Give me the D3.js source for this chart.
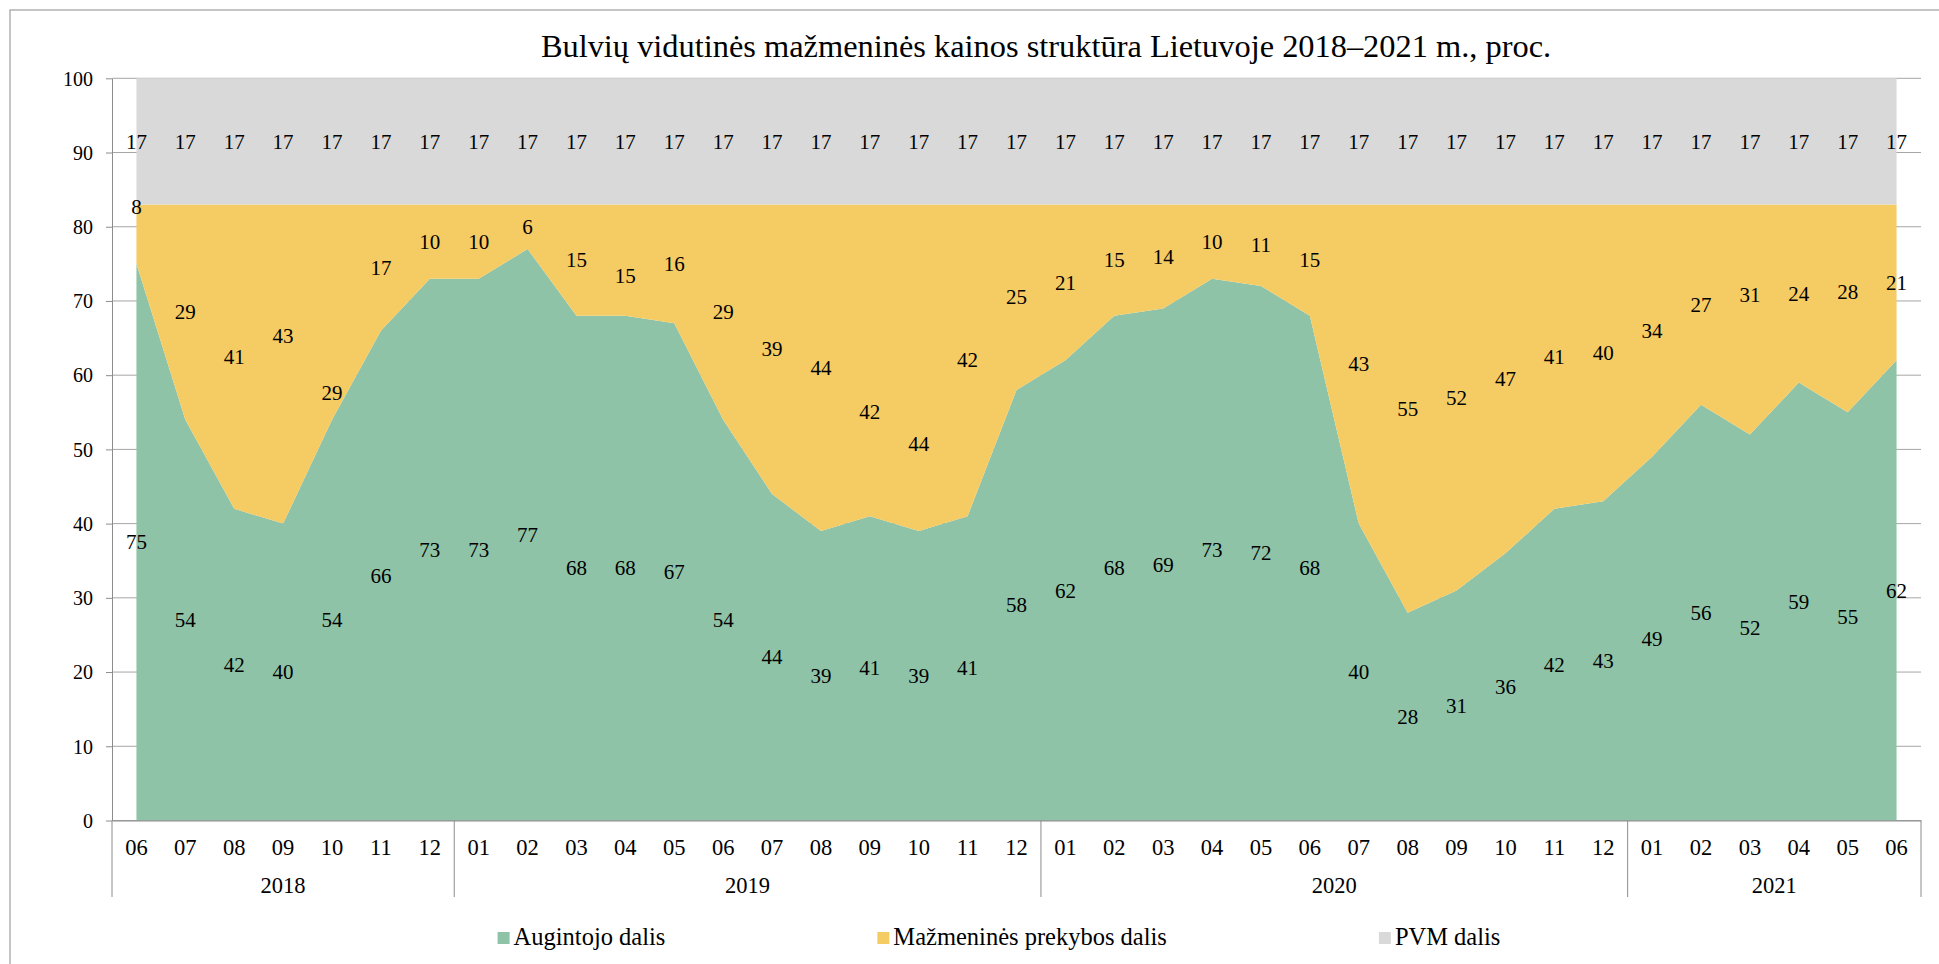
<!DOCTYPE html>
<html>
<head>
<meta charset="utf-8">
<script src="https://cdn.jsdelivr.net/npm/d3@7"></script>
<style>
body { margin: 0; background: #fff; }
svg { display: block; }
svg text { font-family: "Liberation Serif", "Times New Roman", serif !important; fill: #000; }
.grid line { stroke: #a6a6a6; stroke-width: 1; }
.axis path, .axis line { stroke: #8c8c8c; }
</style>
</head>
<body>
<svg class="chart" width="1939" height="964"></svg>
<script>
var title = "Bulvių vidutinės mažmeninės kainos struktūra Lietuvoje 2018–2021 m., proc.";
var years = ["2018", "2019", "2020", "2021"];
var months = [
    ["06", "07", "08", "09", "10", "11", "12"],
    ["01", "02", "03", "04", "05", "06", "07", "08", "09", "10", "11", "12"],
    ["01", "02", "03", "04", "05", "06", "07", "08", "09", "10", "11", "12"],
    ["01", "02", "03", "04", "05", "06"]
];
var grower = [75, 54, 42, 40, 54, 66, 73,
    73, 77, 68, 68, 67, 54, 44, 39, 41, 39, 41, 58,
    62, 68, 69, 73, 72, 68, 40, 28, 31, 36, 42, 43,
    49, 56, 52, 59, 55, 62];
var retail = [8, 29, 41, 43, 29, 17, 10,
    10, 6, 15, 15, 16, 29, 39, 44, 42, 44, 42, 25,
    21, 15, 14, 10, 11, 15, 43, 55, 52, 47, 41, 40,
    34, 27, 31, 24, 28, 21];
var vat = [17, 17, 17, 17, 17, 17, 17,
    17, 17, 17, 17, 17, 17, 17, 17, 17, 17, 17, 17,
    17, 17, 17, 17, 17, 17, 17, 17, 17, 17, 17, 17,
    17, 17, 17, 17, 17, 17];
var seriesKeys = ["grower", "retail", "vat"];
var seriesNames = ["Augintojo dalis", "Mažmeninės prekybos dalis", "PVM dalis"];
var seriesColors = ["#8ec3a7", "#f5cb64", "#d9d9d9"];
var yTicks = [0, 10, 20, 30, 40, 50, 60, 70, 80, 90, 100];

// retail labels that were dragged by hand in the original (value where the label sits)
var retailLabelMoves = { 0: 82.7, 3: 65.3, 4: 57.6, 10: 73.4, 15: 55.1, 16: 50.7, 33: 70.8, 35: 71.2 };

var svg = d3.select("svg.chart"),
    plotLeft = 112, plotRight = 1921, plotTop = 78.3, plotBottom = 820.5;

// category keys like "2018-06"
var keys = [];
years.forEach(function (yr, i) {
    months[i].forEach(function (m) { keys.push(yr + "-" + m); });
});

var rows = keys.map(function (k, i) {
    return { key: k, grower: grower[i], retail: retail[i], vat: vat[i] };
});

var x = d3.scaleBand().domain(keys).range([plotLeft, plotRight]).padding(0);
var y = d3.scaleLinear().domain([0, 100]).range([plotBottom, plotTop]);
function cx(k) { return x(k) + x.bandwidth() / 2; }

// chart border (cut off at right and bottom in the original)
svg.append("rect")
    .attr("x", 10).attr("y", 10)
    .attr("width", 2000).attr("height", 1000)
    .attr("fill", "none").attr("stroke", "#a6a6a6").attr("stroke-width", 1.3);

svg.append("text")
    .attr("x", 1046).attr("y", 56.7)
    .attr("text-anchor", "middle")
    .style("font-size", "32.4px")
    .text(title);

svg.append("g").attr("class", "grid")
    .selectAll("line")
    .data(yTicks)
    .enter().append("line")
    .attr("x1", plotLeft).attr("x2", plotRight)
    .attr("y1", function (d) { return y(d); })
    .attr("y2", function (d) { return y(d); });

var stacked = d3.stack().keys(seriesKeys)(rows);

var area = d3.area()
    .x(function (d) { return cx(d.data.key); })
    .y0(function (d) { return y(d[0]); })
    .y1(function (d) { return y(d[1]); });

svg.append("g").selectAll("path")
    .data(stacked)
    .enter().append("path")
    .attr("d", area)
    .attr("fill", function (d, i) { return seriesColors[i]; });

// y axis
var yAxis = svg.append("g").attr("class", "axis")
    .attr("transform", "translate(" + plotLeft + ",0)")
    .call(d3.axisLeft(y).tickValues(yTicks).tickSize(6).tickSizeOuter(0).tickPadding(13));
yAxis.attr("font-family", null).attr("font-size", null);
yAxis.selectAll("text").style("font-size", "20px").attr("dy", "0.34em");

// x axis, months
var xAxis = svg.append("g").attr("class", "axis")
    .attr("transform", "translate(0," + plotBottom + ")")
    .call(d3.axisBottom(x).tickSize(0).tickSizeOuter(0).tickPadding(18.5)
        .tickFormat(function (k) { return k.slice(5); }));
xAxis.attr("font-family", null).attr("font-size", null);
xAxis.selectAll("text").style("font-size", "22.5px");

// year groups
var groups = years.map(function (yr, i) {
    var first = yr + "-" + months[i][0];
    var last = yr + "-" + months[i][months[i].length - 1];
    return { year: yr, x0: x(first), x1: x(last) + x.bandwidth() };
});
var bounds = [plotLeft].concat(groups.map(function (g) { return g.x1; }));

svg.append("g").selectAll("line")
    .data(bounds)
    .enter().append("line")
    .attr("x1", function (d) { return d; }).attr("x2", function (d) { return d; })
    .attr("y1", plotBottom).attr("y2", 897)
    .attr("stroke", "#8c8c8c");

svg.append("g").selectAll("text")
    .data(groups)
    .enter().append("text")
    .attr("x", function (d) { return (d.x0 + d.x1) / 2; })
    .attr("y", 893.3)
    .attr("text-anchor", "middle")
    .style("font-size", "22.5px")
    .text(function (d) { return d.year; });

// data labels
var labels = [];
rows.forEach(function (r, i) {
    labels.push({ key: r.key, text: r.grower, at: r.grower / 2 });
    var ra = retailLabelMoves[i] !== undefined ? retailLabelMoves[i] : r.grower + r.retail / 2;
    labels.push({ key: r.key, text: r.retail, at: ra });
    labels.push({ key: r.key, text: r.vat, at: r.grower + r.retail + r.vat / 2 });
});

svg.append("g").selectAll("text")
    .data(labels)
    .enter().append("text")
    .attr("x", function (d) { return cx(d.key); })
    .attr("y", function (d) { return y(d.at); })
    .attr("dy", "0.34em")
    .attr("text-anchor", "middle")
    .style("font-size", "21px")
    .text(function (d) { return d.text; });

// legend
var legend = svg.append("g");
var items = legend.selectAll("g")
    .data(seriesNames)
    .enter().append("g");
items.append("rect")
    .attr("width", 12).attr("height", 12)
    .attr("y", 932)
    .attr("fill", function (d, i) { return seriesColors[i]; });
items.append("text")
    .attr("x", 16).attr("y", 945)
    .style("font-size", "24.5px")
    .text(function (d) { return d; });

var widths = [];
items.select("text").each(function () { widths.push(16 + this.getComputedTextLength()); });
var gap = 212;
var total = d3.sum(widths) + gap * (widths.length - 1);
var pos = 999 - total / 2;
items.attr("transform", function (d, i) {
    var t = "translate(" + pos + ",0)";
    pos += widths[i] + gap;
    return t;
});
</script>
</body>
</html>
